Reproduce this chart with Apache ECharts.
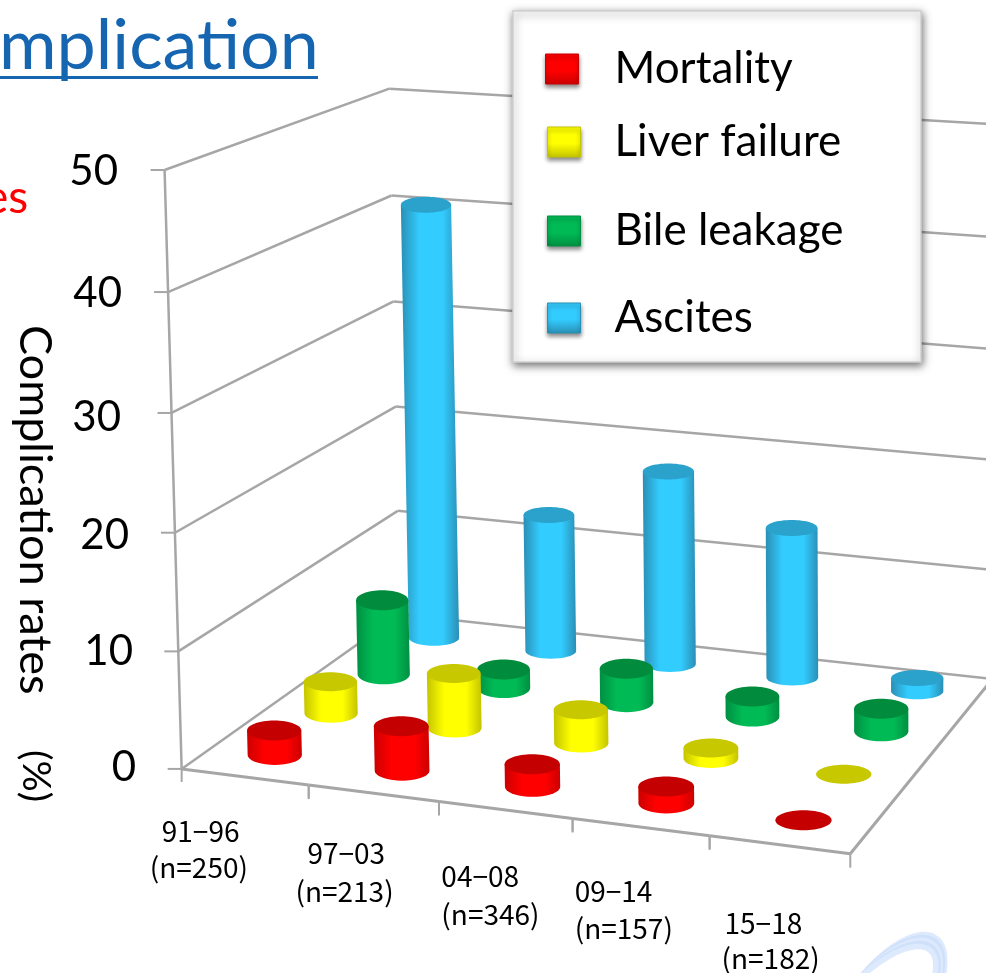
<!DOCTYPE html>
<html><head><meta charset="utf-8">
<style>html,body{margin:0;padding:0;background:#fff}#c{width:986px;height:973px}</style>
<script src="https://cdn.jsdelivr.net/npm/echarts@6/dist/echarts.min.js"></script>
</head><body><div id="c"></div>
<script>
// ---- data ----
const periods = ['91-96', '97-03', '04-08', '09-14', '15-18'];
const counts = ['(n=250)', '(n=213)', '(n=346)', '(n=157)', '(n=182)'];
const yTicks = [0, 10, 20, 30, 40, 50];
const mortality = [2.1, 3.8, 1.9, 1.4, 0];
const liverFailure = [2.8, 4.8, 2.9, 0.9, 0];
const bileLeakage = [6.8, 1.7, 3.0, 1.8, 2.0];
const ascites = [40.5, 12.7, 17.8, 13.7, 1.2];

// ---- scene calibration: [u, v, h] on the floor/wall box -> picture pixel ----
const U = 5, V = 4;
const anchors = [
  [0,0,0,182,767],[U,0,0,853,852],[U,V,0,993,679],[0,V,0,397,613],
  [0,0,50,163,171],[0,V,50,392,87],[U,V,50,993,122],
  [0,0,10,178,652],[0,0,40,167,294],[0,V,10,397,512],[0,V,20,396,407],[0,V,30,395,302],[0,V,40,393,195],
  [U,V,10,993,572],[U,V,20,993,461],[U,V,30,993,350],[U,V,40,993,237]
];
function solve(A, b) {
  const n = b.length, M = A.map((r, i) => r.concat(b[i]));
  for (let c = 0; c < n; c++) {
    let p = c; for (let r = c + 1; r < n; r++) if (Math.abs(M[r][c]) > Math.abs(M[p][c])) p = r;
    [M[c], M[p]] = [M[p], M[c]];
    for (let r = 0; r < n; r++) if (r !== c) {
      const f = M[r][c] / M[c][c];
      for (let k = c; k <= n; k++) M[r][k] -= f * M[c][k];
    }
  }
  return M.map((r, i) => r[n] / r[i]);
}
const camera = (function () {
  const rows = [], rhs = [];
  anchors.forEach(([u, v, h, x, y]) => {
    const H = h / 10, X = x / 1000, Y = y / 1000;
    rows.push([u, v, H, 1, 0, 0, 0, 0, -X * u, -X * v, -X * H]); rhs.push(X);
    rows.push([0, 0, 0, 0, u, v, H, 1, -Y * u, -Y * v, -Y * H]); rhs.push(Y);
  });
  const N = 11, AtA = [], Atb = [];
  for (let i = 0; i < N; i++) {
    AtA.push(new Array(N).fill(0)); Atb.push(0);
    rows.forEach((r, k) => { Atb[i] += r[i] * rhs[k]; for (let j = 0; j < N; j++) AtA[i][j] += r[i] * r[j]; });
  }
  return solve(AtA, Atb);
})();
function project(u, v, h) {
  const H = h / 10, c = camera, w = c[8] * u + c[9] * v + c[10] * H + 1;
  return [1000 * (c[0] * u + c[1] * v + c[2] * H + c[3]) / w, 1000 * (c[4] * u + c[5] * v + c[6] * H + c[7]) / w];
}
const GRID = { left: 182, top: 171, width: 671, height: 596 };
// grid pixel from the library's scales -> box coordinates
function toBox(pt) {
  return { u: (pt[0] - GRID.left) / GRID.width * U, h: (GRID.top + GRID.height - pt[1]) / GRID.height * 50 };
}

const looks = [
  { name: 'Mortality', values: mortality, depth: 0.5, rx: 27, ry: 10, nudge: 0, top: '#c40000', edge: '#cc0000', mid: '#ff0000' },
  { name: 'Liver failure', values: liverFailure, depth: 1.5, rx: 26.5, ry: 9.5, nudge: 0, top: '#c8c800', edge: '#c4c400', mid: '#ffff00' },
  { name: 'Bile leakage', values: bileLeakage, depth: 2.5, rx: 26, ry: 10, nudge: 0, top: '#008c3c', edge: '#008f42', mid: '#00bb55' },
  { name: 'Ascites', values: ascites, depth: 3.5, rx: 25, ry: 8, nudge: 1, top: '#2aa2cc', edge: '#2a8fb5', mid: '#33ccff' }
];

function barSeries(look, z) {
  return {
    type: 'custom', name: look.name, coordinateSystem: 'cartesian2d', z: z, silent: true,
    itemStyle: { color: look.mid },
    data: look.values.map((v, i) => [i, v]),
    renderItem: function (params, api) {
      const value = api.value(1);
      const b = toBox(api.coord([api.value(0), value]));
      const base = project(b.u, look.depth, 0), top = project(b.u, look.depth, b.h);
      const dx = look.nudge + b.u * 0.6;
      base[0] += dx; top[0] += dx;
      const rx = look.rx + b.u * 0.25, ry = look.ry;
      const ring = [];
      for (let a = 0; a <= 180; a += 10) {
        const t = a * Math.PI / 180;
        ring.push([base[0] + rx * Math.cos(t), base[1] + ry * Math.sin(t)]);
      }
      const children = [];
      if (value > 0) {
        const body = ring.concat([[top[0] - rx, top[1]], [top[0] + rx, top[1]]]);
        children.push({
          type: 'polygon', shape: { points: body },
          style: { fill: new echarts.graphic.LinearGradient(0, 0, 1, 0, [
            { offset: 0, color: look.edge }, { offset: 0.32, color: look.mid },
            { offset: 0.72, color: look.mid }, { offset: 1, color: look.edge }
          ]) }
        });
      }
      children.push({ type: 'ellipse', shape: { cx: top[0], cy: top[1], rx: rx, ry: ry }, style: { fill: look.top } });
      return { type: 'group', children: children };
    }
  };
}

const GREY = '#a6a6a6';
function seg(a, b, w) {
  return { type: 'line', shape: { x1: a[0], y1: a[1], x2: b[0], y2: b[1] }, style: { stroke: GREY, lineWidth: w || 2.5 } };
}
const wallSeries = {
  type: 'custom', coordinateSystem: 'cartesian2d', z: 1, silent: true,
  data: yTicks.map(v => [0, v]),
  renderItem: function (params, api) {
    const h = toBox(api.coord([0, api.value(1)])).h;
    const f = project(0, 0, h), bl = project(0, V, h), br = project(U, V, h);
    return { type: 'group', children: [
      seg(f, bl), seg(bl, br), seg(f, [f[0] - 14, f[1]], 2)
    ] };
  }
};
const frameSeries = {
  type: 'custom', coordinateSystem: 'cartesian2d', z: 1, silent: true,
  data: periods.map((p, i) => [i, 0]),
  renderItem: function (params, api) {
    const i = api.value(0), pts = [project(i, 0, 0), project(i + 1, 0, 0)];
    const kids = [seg(pts[0], pts[1], 3), seg(pts[0], [pts[0][0], pts[0][1] + 13], 2)];
    kids.push(seg(pts[1], [pts[1][0], pts[1][1] + 14], 2));
    if (i === 0) kids.push(seg(project(0, 0, 0), project(0, 0, 50)));
    if (i === periods.length - 1) kids.push(seg(pts[1], project(U, V, 0), 3));
    return { type: 'group', children: kids };
  }
};
// label placement: offsets of each text line's left edge / centre line from the floor point under its column
const labelOffsets = [
  [[-83, 54], [-95, 90]],
  [[-66, 60], [-78, 98]],
  [[-64, 66], [-64, 104]],
  [[-66, 64], [-66, 101]],
  [[-55, 79], [-58, 114]]
];
const labelFont = '"Noto Sans CJK JP", "Noto Sans", sans-serif';
const labelSeries = {
  type: 'custom', coordinateSystem: 'cartesian2d', z: 1, silent: true,
  data: periods.map((p, i) => [i, 0]),
  renderItem: function (params, api) {
    const i = api.value(0), b = toBox(api.coord([i, 0])), p = project(b.u, 0, 0), o = labelOffsets[i];
    const txt = (s, d) => ({ type: 'text', x: p[0] + d[0], y: p[1] + d[1],
      style: { text: s, font: '400 28px ' + labelFont, fill: '#000', textAlign: 'left', textVerticalAlign: 'middle' } });
    return { type: 'group', children: [txt(periods[i].replace('-', '\u2212'), o[0]), txt(counts[i], o[1])] };
  }
};

const FONT = 'Lato, "Open Sans", sans-serif';
const legendTops = [47, 120, 209, 296];
const legendLefts = [545, 547, 547, 547];
const legendTextGap = [31, 29, 29, 29];
function bevel(c) {
  return new echarts.graphic.LinearGradient(0, 0, 0, 1, [
    { offset: 0, color: c.mid }, { offset: 0.55, color: c.mid }, { offset: 1, color: c.edge }
  ]);
}
const legends = looks.map((l, i) => ({
  show: true, left: legendLefts[i], top: legendTops[i], z: 20, orient: 'horizontal', padding: 0, selectedMode: false,
  itemWidth: 33, itemHeight: 30, itemGap: 0,
  icon: 'rect',
  data: [{ name: l.name, itemStyle: { color: bevel(l), borderColor: l.edge, borderWidth: 1, shadowBlur: 4, shadowColor: 'rgba(0,0,0,.45)', shadowOffsetY: 3 } }],
  textStyle: { fontFamily: FONT, fontSize: 44, color: '#000', padding: [0, 0, 11, legendTextGap[i]] }
}));

const yLabelPad = { 0: 0, 10: 3, 20: 7, 30: 15, 40: 14, 50: 18 };
const yLabelDrop = { 0: 0, 10: 8, 20: 14, 30: 16, 40: 6, 50: 0 };
const yRich = {};
yTicks.forEach(v => { yRich['t' + v] = { fontFamily: FONT, fontSize: 42, color: '#000', padding: [yLabelDrop[v], yLabelPad[v], 0, 0] }; });

// faint logo arcs at the lower right corner
const logoRise = [0, 1, 2, 3, 4];
const logoArcs = logoRise.map(k => ({
  type: 'bezierCurve',
  shape: { x1: 860, y1: 978, x2: 943 - k * 2.2, y2: 978, cpx1: 903 - k, cpy1: 925 + k * 4, cpx2: 955 - k * 2.5, cpy2: 915 + k * 4 },
  style: { stroke: k % 2 ? '#cfe0fa' : '#dde9fc', lineWidth: 5.5, fill: 'none' }
}));

const option = {
  animation: false, backgroundColor: '#fff',
  grid: { left: GRID.left, top: GRID.top, width: GRID.width, height: GRID.height, containLabel: false },
  xAxis: { type: 'category', data: periods, show: false },
  yAxis: {
    type: 'value', min: 0, max: 50, interval: 10,
    axisLine: { show: false }, axisTick: { show: false }, splitLine: { show: false },
    axisLabel: { margin: 46, formatter: v => '{t' + v + '|' + v + '}', rich: yRich }
  },
  legend: legends,
  graphic: logoArcs.concat([
    { type: 'rect', z: 10, shape: { x: 513, y: 11, width: 408, height: 351 },
      style: { fill: '#fff', stroke: '#cfcfcf', lineWidth: 1.5, shadowBlur: 8, shadowOffsetX: 1, shadowOffsetY: 3, shadowColor: 'rgba(0,0,0,.55)' } },
    { type: 'text', x: -1, y: 11, style: { text: 'mplication', font: '400 70px ' + FONT, fill: '#1565b0' } },
    { type: 'rect', shape: { x: 0, y: 76, width: 318, height: 3 }, style: { fill: '#1565b0' } },
    { type: 'text', x: -16, y: 175, style: { text: 'es', font: '400 46px ' + FONT, fill: '#ff0000' } },
    { type: 'text', x: 57, y: 325, rotation: -Math.PI / 2, style: { text: 'Complication rates', font: '400 45px ' + FONT, fill: '#000' } },
    { type: 'text', x: 55, y: 750, rotation: -Math.PI / 2, style: { text: '(%)', font: '400 39px ' + FONT, fill: '#000' } }
  ]),
  series: [wallSeries, frameSeries, labelSeries]
    .concat([barSeries(looks[3], 2), barSeries(looks[2], 3), barSeries(looks[1], 4), barSeries(looks[0], 5)])
};
echarts.init(document.getElementById('c')).setOption(option);
</script>
</body></html>
